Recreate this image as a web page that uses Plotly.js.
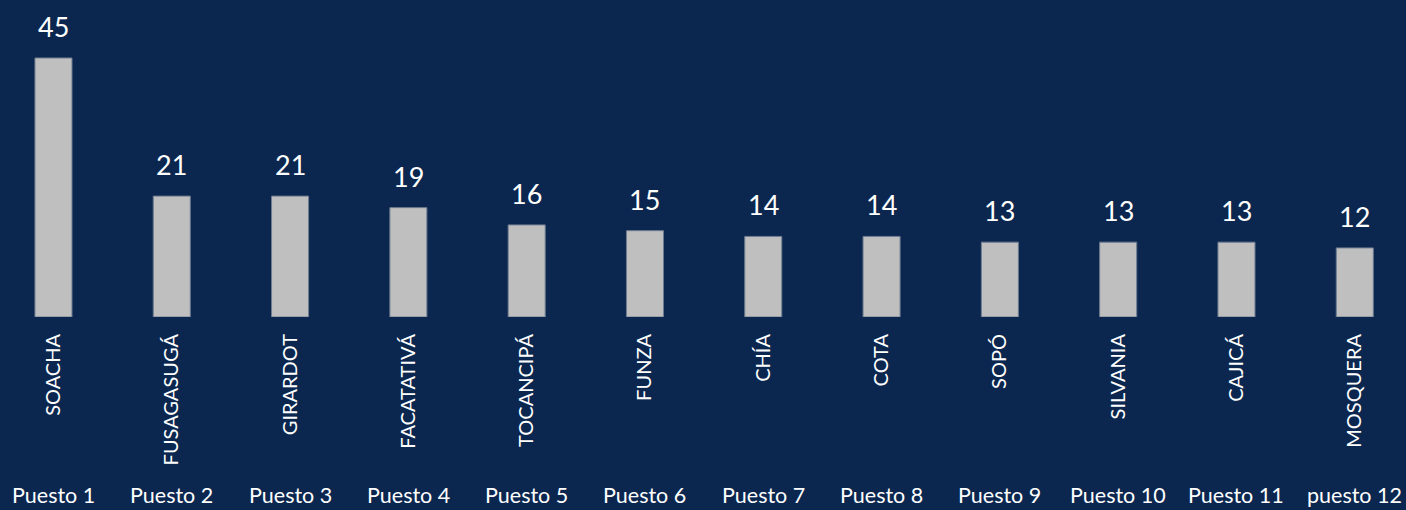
<!DOCTYPE html>
<html>
<head>
<meta charset="utf-8">
<script src="https://cdn.plot.ly/plotly-3.0.1.min.js"></script>
<style>
  html, body { margin: 0; padding: 0; background: #0B274F; }
  #chart { width: 1406px; height: 510px; }
</style>
</head>
<body>
<div id="chart"></div>
<script>
const municipios = ["SOACHA", "FUSAGASUGÁ", "GIRARDOT", "FACATATIVÁ", "TOCANCIPÁ", "FUNZA", "CHÍA", "COTA", "SOPÓ", "SILVANIA", "CAJICÁ", "MOSQUERA"];
const valores = [45, 21, 21, 19, 16, 15, 14, 14, 13, 13, 13, 12];
const puestos = ["Puesto 1", "Puesto 2", "Puesto 3", "Puesto 4", "Puesto 5", "Puesto 6", "Puesto 7", "Puesto 8", "Puesto 9", "Puesto 10", "Puesto 11", "puesto 12"];

const FONT = "Lato, 'Open Sans', sans-serif";

const trace = {
  type: "bar",
  x: municipios,
  y: valores,
  width: 0.313,
  marker: { color: "#BFBFBF", line: { color: "#6E7C90", width: 1 } },
  hoverinfo: "x+y"
};

const annotations = [];
municipios.forEach((m, i) => {
  annotations.push({
    x: m, y: valores[i], xref: "x", yref: "y",
    text: String(valores[i]), showarrow: false,
    yanchor: "bottom", xanchor: "center", yshift: 13,
    font: { family: FONT, size: 27, color: "#FFFFFF" }
  });
  annotations.push({
    x: m, y: -0.562, xref: "x", yref: "paper",
    text: puestos[i], showarrow: false,
    yanchor: "middle", xanchor: "center",
    font: { family: FONT, size: 21.5, color: "#FFFFFF" }
  });
});

const layout = {
  width: 1406, height: 510,
  paper_bgcolor: "#0B274F", plot_bgcolor: "#0B274F",
  margin: { l: 0, r: 0, t: 0, b: 193 },
  showlegend: false,
  xaxis: {
    type: "category",
    range: [-0.452, 11.433],
    showgrid: false, zeroline: false, showline: false,
    ticks: "", tickangle: -90,
    ticklabelstandoff: 12,
    tickfont: { family: FONT, size: 20, color: "#FFFFFF" },
    fixedrange: true
  },
  yaxis: {
    range: [0, 55.07],
    showgrid: false, zeroline: false, showline: false,
    showticklabels: false, ticks: "",
    fixedrange: true
  },
  annotations: annotations
};

Plotly.newPlot("chart", [trace], layout, { displayModeBar: false, staticPlot: true });
</script>
</body>
</html>
